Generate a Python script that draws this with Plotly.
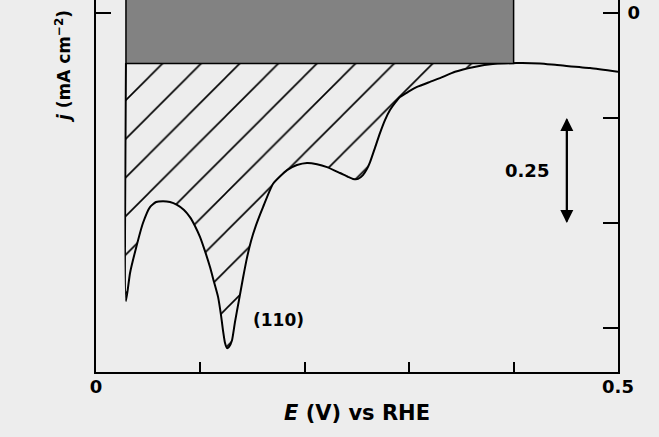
import plotly.graph_objects as go
import numpy as np

# ---------------- data ----------------
E_curve = [0.0287, 0.0287, 0.0326, 0.0383, 0.0450, 0.0517, 0.0575, 0.0642, 0.0709, 0.0776,
           0.0843, 0.0900, 0.0948, 0.0996, 0.1044, 0.1092, 0.1130, 0.1169, 0.1197, 0.1216,
           0.1236, 0.1255, 0.1274, 0.1303, 0.1331, 0.1370, 0.1408, 0.1446, 0.1485, 0.1533,
           0.1600, 0.1695, 0.1830, 0.1925, 0.2021, 0.2117, 0.2213, 0.2337, 0.2414, 0.2462,
           0.2510, 0.2557, 0.2596, 0.2625, 0.2672, 0.2720, 0.2768, 0.2816, 0.2864, 0.2912,
           0.2989, 0.3075, 0.3199, 0.3295, 0.3439, 0.3611, 0.3822, 0.4033, 0.4253, 0.4416,
           0.4732, 0.5000]
j_curve = [-0.119, -0.686, -0.619, -0.560, -0.500, -0.462, -0.450, -0.448, -0.450, -0.457,
           -0.469, -0.486, -0.507, -0.533, -0.567, -0.605, -0.640, -0.676, -0.719, -0.755,
           -0.786, -0.798, -0.795, -0.779, -0.736, -0.683, -0.631, -0.583, -0.543, -0.505,
           -0.462, -0.407, -0.374, -0.362, -0.357, -0.360, -0.367, -0.381, -0.390, -0.395,
           -0.395, -0.386, -0.371, -0.355, -0.321, -0.286, -0.255, -0.231, -0.214, -0.200,
           -0.188, -0.176, -0.164, -0.155, -0.140, -0.129, -0.121, -0.119, -0.120, -0.124,
           -0.131, -0.140]

E_window = [0.0287, 0.40]     # potential window of the double-layer box
j_box = -0.12                 # bottom of double-layer box (mA cm-2)
j_top = 0.1

x_ticks = [0, 0.1, 0.2, 0.3, 0.4, 0.5]
x_ticktext = ["0", "", "", "", "", "0.5"]
y_ticks = [0, -0.25, -0.5, -0.75]
y_ticktext = ["0", "", "", ""]

scale_bar = [-0.25, -0.5]
scale_E = 0.451
scale_label = "0.25"
peak_label = "(110)"
peak_pos = (0.175, -0.731)

x_range = [0, 0.5]
y_range = [-0.8548, 0.0310]

# ---------------- figure ----------------
E = np.array(E_curve)
j = np.array(j_curve)
mask = E <= E_window[1] + 0.004

BG = "#ededed"
FONT = "DejaVu Sans"

# second (invisible) subplot used only to set the phase of the hatch pattern;
# its axes map to exactly the same data coordinates as the main axes
shift = 0.0272                       # fraction of plot width
x2_range = [x_range[0] + shift * (x_range[1] - x_range[0]), x_range[1]]

fig = go.Figure()

# hatched charge region
fig.add_trace(go.Scatter(
    x=E[mask], y=j[mask], mode="lines", fill="toself", xaxis="x2", yaxis="y3",
    line=dict(width=0, shape="spline", smoothing=0.5),
    fillcolor="rgba(0,0,0,0)",
    fillpattern=dict(shape="/", size=27.3, solidity=0.06, fgcolor="black",
                     fgopacity=1, bgcolor="rgba(0,0,0,0)", fillmode="overlay"),
    hoverinfo="skip", showlegend=False))

# voltammogram
fig.add_trace(go.Scatter(
    x=E, y=j, mode="lines", xaxis="x2", yaxis="y3",
    line=dict(color="black", width=2, shape="spline", smoothing=0.5),
    showlegend=False))

# dummy traces for the visible axes
fig.add_trace(go.Scatter(x=[E[0]], y=[j[0]], mode="markers",
                         marker=dict(opacity=0), showlegend=False, hoverinfo="skip"))
fig.add_trace(go.Scatter(x=[E[0]], y=[j[0]], yaxis="y2", mode="markers",
                         marker=dict(opacity=0), showlegend=False, hoverinfo="skip"))

# gray double-layer box
fig.add_shape(type="rect", xref="x", yref="y",
              x0=E_window[0], x1=E_window[1], y0=j_box, y1=j_top,
              fillcolor="#828282", line=dict(color="black", width=1.5), layer="above")

# scale arrow (double-headed)
mid = (scale_bar[0] + scale_bar[1]) / 2
for head, tail in [(scale_bar[0], scale_bar[1]), (scale_bar[1], scale_bar[0])]:
    fig.add_annotation(x=scale_E, y=head, ax=scale_E, ay=tail, xref="x", yref="y",
                       axref="x", ayref="y", text="", showarrow=True,
                       arrowhead=2, arrowsize=1.3, arrowwidth=2, arrowcolor="black")
fig.add_annotation(x=0.413, y=mid, xref="x", yref="y", text=scale_label,
                   showarrow=False, font=dict(family=FONT, size=18, color="black", weight="bold"))
fig.add_annotation(x=peak_pos[0], y=peak_pos[1], xref="x", yref="y", text=peak_label,
                   showarrow=False, font=dict(family=FONT, size=17, color="black", weight="bold"))

# axis titles
fig.add_annotation(x=0.5, y=-0.111, xref="paper", yref="paper",
                   xanchor="center", yanchor="middle",
                   text="<i>E</i> (V) vs RHE", showarrow=False,
                   font=dict(family=FONT, size=21, color="black", weight="bold"))
fig.add_annotation(x=-0.063, y=0.82, xref="paper", yref="paper",
                   xanchor="center", yanchor="middle",
                   text="<i>j</i> (mA cm<sup>−2</sup>)", showarrow=False, textangle=-90,
                   font=dict(family=FONT, size=17, color="black", weight="bold"))

tickfont = dict(family=FONT, size=18, color="black", weight="bold")

fig.update_layout(
    width=659, height=437,
    margin=dict(l=96, r=41, t=0, b=65),
    paper_bgcolor=BG, plot_bgcolor="rgba(0,0,0,0)",
    xaxis=dict(range=x_range, tickvals=x_ticks, ticktext=x_ticktext,
               ticks="inside", ticklen=10, tickwidth=2, tickcolor="black",
               showline=True, linewidth=2, linecolor="black", showgrid=False,
               zeroline=False, tickfont=tickfont, ticklabelstandoff=-3),
    yaxis=dict(range=y_range, tickvals=[0], ticktext=[""], ticks="inside",
               ticklen=15, tickwidth=2, tickcolor="black", showline=True,
               linewidth=2, linecolor="black", showgrid=False, zeroline=False),
    yaxis2=dict(range=y_range, overlaying="y", side="right", tickvals=y_ticks,
                ticktext=y_ticktext, ticks="inside", ticklen=15, tickwidth=2,
                tickcolor="black", showline=True, linewidth=2, linecolor="black",
                showgrid=False, zeroline=False, tickfont=tickfont, ticklabelstandoff=4),
    xaxis2=dict(domain=[shift, 1], range=x2_range, anchor="y3", visible=False),
    yaxis3=dict(domain=[0, 1], range=y_range, anchor="x2", visible=False),
)

fig.write_html("out.html", config={"displayModeBar": False},
               post_script="document.body.style.margin='0px';document.body.style.background='%s';" % BG)
